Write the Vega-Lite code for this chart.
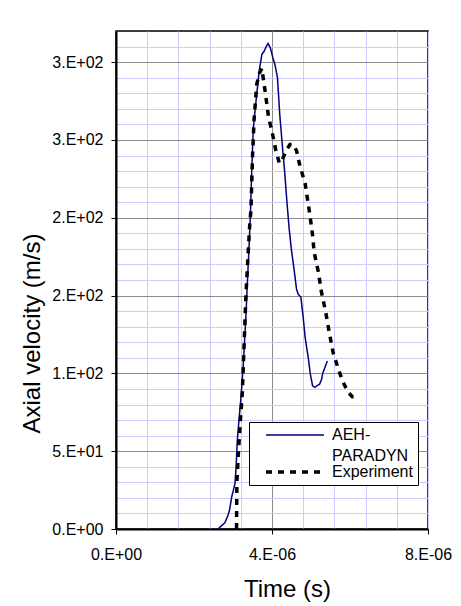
{
  "$schema": "https://vega.github.io/schema/vega-lite/v6.json",
  "width": 312,
  "height": 498,
  "autosize": {"type": "none"},
  "padding": {"left": 116, "top": 31, "right": 33, "bottom": 77},
  "background": "white",
  "config": {
    "font": "Liberation Sans",
    "view": {"stroke": "#000000", "strokeWidth": 1.5}
  },
  "data": {
    "values": [
      {"series": "AEH-PARADYN", "t": 2.62e-6, "v": 0},
      {"series": "AEH-PARADYN", "t": 2.70e-6, "v": 2},
      {"series": "AEH-PARADYN", "t": 2.79e-6, "v": 4},
      {"series": "AEH-PARADYN", "t": 2.86e-6, "v": 8},
      {"series": "AEH-PARADYN", "t": 2.91e-6, "v": 12},
      {"series": "AEH-PARADYN", "t": 2.97e-6, "v": 21},
      {"series": "AEH-PARADYN", "t": 3.05e-6, "v": 29},
      {"series": "AEH-PARADYN", "t": 3.08e-6, "v": 40},
      {"series": "AEH-PARADYN", "t": 3.11e-6, "v": 57},
      {"series": "AEH-PARADYN", "t": 3.16e-6, "v": 72},
      {"series": "AEH-PARADYN", "t": 3.20e-6, "v": 83},
      {"series": "AEH-PARADYN", "t": 3.26e-6, "v": 104},
      {"series": "AEH-PARADYN", "t": 3.33e-6, "v": 136},
      {"series": "AEH-PARADYN", "t": 3.36e-6, "v": 154},
      {"series": "AEH-PARADYN", "t": 3.42e-6, "v": 186},
      {"series": "AEH-PARADYN", "t": 3.45e-6, "v": 205},
      {"series": "AEH-PARADYN", "t": 3.48e-6, "v": 230},
      {"series": "AEH-PARADYN", "t": 3.52e-6, "v": 257},
      {"series": "AEH-PARADYN", "t": 3.59e-6, "v": 275},
      {"series": "AEH-PARADYN", "t": 3.67e-6, "v": 294},
      {"series": "AEH-PARADYN", "t": 3.74e-6, "v": 305},
      {"series": "AEH-PARADYN", "t": 3.80e-6, "v": 307},
      {"series": "AEH-PARADYN", "t": 3.85e-6, "v": 310},
      {"series": "AEH-PARADYN", "t": 3.90e-6, "v": 312},
      {"series": "AEH-PARADYN", "t": 3.96e-6, "v": 309},
      {"series": "AEH-PARADYN", "t": 4.02e-6, "v": 303},
      {"series": "AEH-PARADYN", "t": 4.08e-6, "v": 298},
      {"series": "AEH-PARADYN", "t": 4.14e-6, "v": 290},
      {"series": "AEH-PARADYN", "t": 4.20e-6, "v": 266},
      {"series": "AEH-PARADYN", "t": 4.27e-6, "v": 245},
      {"series": "AEH-PARADYN", "t": 4.33e-6, "v": 228},
      {"series": "AEH-PARADYN", "t": 4.38e-6, "v": 211},
      {"series": "AEH-PARADYN", "t": 4.44e-6, "v": 193},
      {"series": "AEH-PARADYN", "t": 4.50e-6, "v": 179},
      {"series": "AEH-PARADYN", "t": 4.57e-6, "v": 166},
      {"series": "AEH-PARADYN", "t": 4.63e-6, "v": 154},
      {"series": "AEH-PARADYN", "t": 4.67e-6, "v": 151},
      {"series": "AEH-PARADYN", "t": 4.74e-6, "v": 149},
      {"series": "AEH-PARADYN", "t": 4.80e-6, "v": 136},
      {"series": "AEH-PARADYN", "t": 4.85e-6, "v": 123},
      {"series": "AEH-PARADYN", "t": 4.93e-6, "v": 110},
      {"series": "AEH-PARADYN", "t": 4.98e-6, "v": 100},
      {"series": "AEH-PARADYN", "t": 5.04e-6, "v": 92},
      {"series": "AEH-PARADYN", "t": 5.10e-6, "v": 91},
      {"series": "AEH-PARADYN", "t": 5.15e-6, "v": 92},
      {"series": "AEH-PARADYN", "t": 5.22e-6, "v": 93},
      {"series": "AEH-PARADYN", "t": 5.27e-6, "v": 96},
      {"series": "AEH-PARADYN", "t": 5.30e-6, "v": 100},
      {"series": "AEH-PARADYN", "t": 5.36e-6, "v": 104},
      {"series": "AEH-PARADYN", "t": 5.42e-6, "v": 108},
      {"series": "Experiment", "t": 3.09e-6, "v": 0},
      {"series": "Experiment", "t": 3.10e-6, "v": 30},
      {"series": "Experiment", "t": 3.14e-6, "v": 50},
      {"series": "Experiment", "t": 3.19e-6, "v": 70},
      {"series": "Experiment", "t": 3.24e-6, "v": 88},
      {"series": "Experiment", "t": 3.29e-6, "v": 122},
      {"series": "Experiment", "t": 3.33e-6, "v": 149},
      {"series": "Experiment", "t": 3.39e-6, "v": 178},
      {"series": "Experiment", "t": 3.43e-6, "v": 196},
      {"series": "Experiment", "t": 3.46e-6, "v": 205},
      {"series": "Experiment", "t": 3.50e-6, "v": 239},
      {"series": "Experiment", "t": 3.54e-6, "v": 263},
      {"series": "Experiment", "t": 3.61e-6, "v": 286},
      {"series": "Experiment", "t": 3.68e-6, "v": 293},
      {"series": "Experiment", "t": 3.74e-6, "v": 296},
      {"series": "Experiment", "t": 3.82e-6, "v": 282},
      {"series": "Experiment", "t": 3.91e-6, "v": 265},
      {"series": "Experiment", "t": 4.02e-6, "v": 253},
      {"series": "Experiment", "t": 4.10e-6, "v": 243},
      {"series": "Experiment", "t": 4.19e-6, "v": 235},
      {"series": "Experiment", "t": 4.26e-6, "v": 237},
      {"series": "Experiment", "t": 4.36e-6, "v": 243},
      {"series": "Experiment", "t": 4.46e-6, "v": 247},
      {"series": "Experiment", "t": 4.55e-6, "v": 247},
      {"series": "Experiment", "t": 4.63e-6, "v": 243},
      {"series": "Experiment", "t": 4.71e-6, "v": 234},
      {"series": "Experiment", "t": 4.85e-6, "v": 222},
      {"series": "Experiment", "t": 4.97e-6, "v": 202},
      {"series": "Experiment", "t": 5.04e-6, "v": 189},
      {"series": "Experiment", "t": 5.08e-6, "v": 178},
      {"series": "Experiment", "t": 5.19e-6, "v": 165},
      {"series": "Experiment", "t": 5.27e-6, "v": 152},
      {"series": "Experiment", "t": 5.38e-6, "v": 139},
      {"series": "Experiment", "t": 5.47e-6, "v": 126},
      {"series": "Experiment", "t": 5.57e-6, "v": 113},
      {"series": "Experiment", "t": 5.66e-6, "v": 106},
      {"series": "Experiment", "t": 5.74e-6, "v": 100},
      {"series": "Experiment", "t": 5.83e-6, "v": 94},
      {"series": "Experiment", "t": 5.95e-6, "v": 88},
      {"series": "Experiment", "t": 6.06e-6, "v": 85},
      {"series": "Experiment", "t": 6.20e-6, "v": 85}
    ]
  },
  "mark": {"type": "line", "clip": true},
  "encoding": {
    "x": {
      "field": "t",
      "type": "quantitative",
      "scale": {"domain": [0, 8e-6], "nice": false, "zero": false},
      "axis": {
        "values": [0, 8e-7, 1.6e-6, 2.4e-6, 3.2e-6, 4e-6, 4.8e-6, 5.6e-6, 6.4e-6, 7.2e-6, 8e-6],
        "labelExpr": "(datum.value == 0 || datum.value == 4e-6 || datum.value == 8e-6) ? replace(replace(format(datum.value, '.0e'), 'e+', '.E+0'), 'e-', '.E-0') : ''",
        "grid": true,
        "gridColor": {"condition": {"test": "datum.value == 4e-6", "value": "#8c8c8c"}, "value": "#ccccff"},
        "gridWidth": 1,
        "tickOpacity": {"condition": {"test": "datum.value == 0 || datum.value == 4e-6 || datum.value == 8e-6", "value": 1}, "value": 0},
        "tickSize": 5,
        "tickColor": "#000000",
        "domainColor": "#000000",
        "domainWidth": 2,
        "labelFontSize": 16,
        "labelColor": "#000000",
        "labelPadding": 12,
        "labelFlush": false,
        "labelOverlap": false,
        "labelBound": false,
        "title": "Time (s)",
        "titleFontSize": 24,
        "titleFontWeight": "normal",
        "titleColor": "#000000",
        "titleX": 171,
        "titleY": 67,
        "titleAlign": "center",
        "titleBaseline": "alphabetic"
      }
    },
    "y": {
      "field": "v",
      "type": "quantitative",
      "scale": {"domain": [0, 320], "nice": false, "zero": false},
      "axis": {
        "values": [0, 10, 20, 30, 40, 50, 60, 70, 80, 90, 100, 110, 120, 130, 140, 150, 160, 170, 180, 190, 200, 210, 220, 230, 240, 250, 260, 270, 280, 290, 300, 310],
        "labelExpr": "(datum.value % 50 == 0) ? replace(replace(format(datum.value, '.0e'), 'e+', '.E+0'), 'e-', '.E-0') : ''",
        "grid": true,
        "gridColor": {"condition": {"test": "datum.value % 50 == 0", "value": "#8c8c8c"}, "value": "#ccccff"},
        "gridWidth": 1,
        "tickOpacity": {"condition": {"test": "datum.value % 50 == 0", "value": 1}, "value": 0},
        "tickSize": 5,
        "tickColor": "#000000",
        "domainColor": "#000000",
        "domainWidth": 2,
        "labelFontSize": 16,
        "labelColor": "#000000",
        "labelPadding": 8,
        "labelOverlap": false,
        "labelBound": false,
        "title": "Axial velocity (m/s)",
        "titleFontSize": 24,
        "titleFontWeight": "normal",
        "titleColor": "#000000",
        "titleAngle": 270,
        "titleX": -77,
        "titleY": 302,
        "titleAlign": "center",
        "titleBaseline": "alphabetic"
      }
    },
    "color": {
      "field": "series",
      "type": "nominal",
      "scale": {"domain": ["AEH-PARADYN", "Experiment"], "range": ["#000080", "#000000"]},
      "legend": {
        "title": null,
        "orient": "none",
        "legendX": 133,
        "legendY": 391,
        "strokeColor": "#000000",
        "fillColor": "#ffffff",
        "padding": 5,
        "symbolType": "M-8,0H8",
        "symbolSize": 52.56,
        "symbolOffset": 33,
        "labelOffset": 29,
        "labelFontSize": 16,
        "labelColor": "#000000",
        "labelBaseline": "middle",
        "labelLimit": 200,
        "rowPadding": 0,
        "labelExpr": "datum.value == 'AEH-PARADYN' ? ['AEH-', 'PARADYN'] : datum.label",
        "encode": {
          "labels": {
            "update": {
              "lineHeight": {"value": 21}
            }
          }
        }
      }
    },
    "strokeDash": {
      "field": "series",
      "type": "nominal",
      "scale": {"domain": ["AEH-PARADYN", "Experiment"], "range": [[1, 0], [6, 6]]}
    },
    "strokeWidth": {
      "field": "series",
      "type": "nominal",
      "scale": {"domain": ["AEH-PARADYN", "Experiment"], "range": [1.5, 3.5]}
    }
  }
}
